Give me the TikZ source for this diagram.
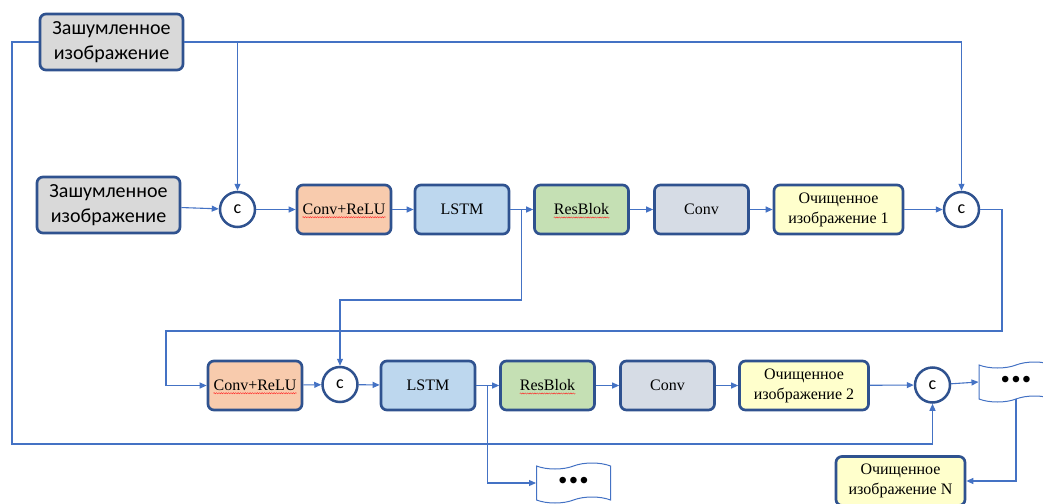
\documentclass[tikz,border=0pt]{standalone}
\usepackage{fontspec}
\setmainfont{Liberation Serif}
\newfontfamily\sansfont{Carlito}
\newfontfamily\dotfont{Liberation Sans}
\usetikzlibrary{arrows.meta,shapes.symbols,decorations.pathmorphing,calc}
\definecolor{bord}{HTML}{2F528F}
\definecolor{connc}{HTML}{4472C4}
\definecolor{noisyfill}{HTML}{D9D9D9}
\definecolor{orfill}{HTML}{F8CBAD}
\definecolor{bluefill}{HTML}{BDD7EE}
\definecolor{grfill}{HTML}{C5E0B4}
\definecolor{convfill}{HTML}{D6DCE5}
\definecolor{yelfill}{HTML}{FFFFCC}
\newcommand\tdots{\dotfont•\hspace{2.2pt}•\hspace{2.2pt}•}
\begin{document}
\begin{tikzpicture}[x=1pt,y=-1pt,
  box/.style={draw=bord, line width=2.7pt, rounded corners=6pt, minimum height=49pt,
    minimum width=94pt, inner sep=2pt, align=center, font=\fontsize{16}{20}\selectfont},
  noisy/.style={box, fill=noisyfill, font=\sansfont\fontsize{20}{25}\selectfont,
    minimum width=143pt, minimum height=56pt},
  crelu/.style={box, fill=orfill},
  lstmb/.style={box, fill=bluefill},
  resb/.style={box, fill=grfill},
  convb/.style={box, fill=convfill},
  clean/.style={box, fill=yelfill, minimum width=129pt},
  cat/.style={circle, draw=bord, line width=2.5pt, fill=white, minimum size=35pt,
    inner sep=0pt, font=\sansfont\fontsize{18}{20}\selectfont},
  conn/.style={draw=connc, line width=1.1pt},
  arr/.style={conn, -{Triangle[length=7pt,width=6pt]}},
  tp/.style={tape, draw=connc, line width=1pt, fill=white, minimum width=74pt,
    minimum height=40pt, tape bend height=6pt, font=\fontsize{24}{24}\selectfont},
  phant/.style={inner sep=0pt, font=\fontsize{16}{20}\selectfont},
  squig/.style={draw=red!85, line width=0.45pt, decorate,
    decoration={snake, amplitude=0.6pt, segment length=2.4pt}}
]
\useasboundingbox (0,0) rectangle (1043,503);

% row 0
\node[noisy] (noisyA) at (111.5,42) {Зашумленное\\изображение};
% row 1
\node[noisy] (noisyB) at (108.5,205) {Зашумленное\\изображение};
\node[cat] (c1) at (237.5,209.5) {c};
\node[crelu] (cr1) at (344,209.5) {Conv+ReLU};
\node[lstmb] (lstm1) at (462,209.5) {LSTM};
\node[resb] (res1) at (581.5,209.5) {ResBlok};
\node[convb] (conv1) at (701.5,209.5) {Conv};
\node[clean] (clean1) at (838.5,209.5) {Очищенное\\изображение 1};
\node[cat] (c2) at (961.5,209.5) {c};
% row 2
\node[crelu] (cr2) at (255,385.5) {Conv+ReLU};
\node[cat] (c3) at (340,384.5) {c};
\node[lstmb] (lstm2) at (428,385.5) {LSTM};
\node[resb] (res2) at (547.5,385.5) {ResBlok};
\node[convb] (conv2) at (667.5,385.5) {Conv};
\node[clean] (clean2) at (804,385.5) {Очищенное\\изображение 2};
\node[cat] (c4) at (932.5,385) {c};
\node[tp] (tapeR) at (1016,382) {\tdots};
\node[tp] (tapeB) at (573.5,483) {\tdots};
\node[clean] (cleanN) at (900.5,481) {Очищенное\\изображение N};

% spell-check underlines
\node[phant] (cr1u) at (cr1) {\phantom{Conv+ReLU}};
\node[phant] (res1u) at (res1) {\phantom{ResBlok}};
\node[phant] (cr2u) at (cr2) {\phantom{Conv+ReLU}};
\node[phant] (res2u) at (res2) {\phantom{ResBlok}};
\foreach \n in {cr1u,res1u,cr2u,res2u}{
  \draw[squig] ([yshift=-2.5pt]\n.base west) -- ([yshift=-2.5pt]\n.base east);
}

% connectors
\coordinate (LL) at (12,444);
\draw[arr] (noisyA.west) -| (LL) -| (c4.south);
\draw[arr] (noisyA.east) -| (c2.north);
\draw[arr] (c1.north |- noisyA.east) -- (c1.north);

\draw[arr] (noisyB) -- (c1);
\draw[arr] (c1) -- (cr1);
\draw[arr] (cr1) -- (lstm1);
\draw[arr] (lstm1) -- (res1);
\draw[arr] (res1) -- (conv1);
\draw[arr] (conv1) -- (clean1);
\draw[arr] (clean1) -- (c2);

\coordinate (b1) at ($(lstm1.east)!0.5!(res1.west)$);
\coordinate (b1d) at (b1 |- 0,300);
\draw[arr] (b1) -- (b1d) -| (c3.north);

\coordinate (R1) at (1002,331);
\coordinate (L2) at (166,331);
\draw[arr] (c2.east) -| (R1) -- (L2) |- (cr2.west);

\draw[arr] (cr2) -- (c3);
\draw[arr] (c3) -- (lstm2);
\draw[arr] (lstm2) -- (res2);
\draw[arr] (res2) -- (conv2);
\draw[arr] (conv2) -- (clean2);
\draw[arr] (clean2) -- (c4);
\draw[arr] (c4) -- (tapeR.west);

\coordinate (b2) at ($(lstm2.east)!0.5!(res2.west)$);
\draw[arr] (b2) |- (tapeB.west);
\draw[arr] (tapeR.south) |- (cleanN.east);
\end{tikzpicture}
\end{document}
